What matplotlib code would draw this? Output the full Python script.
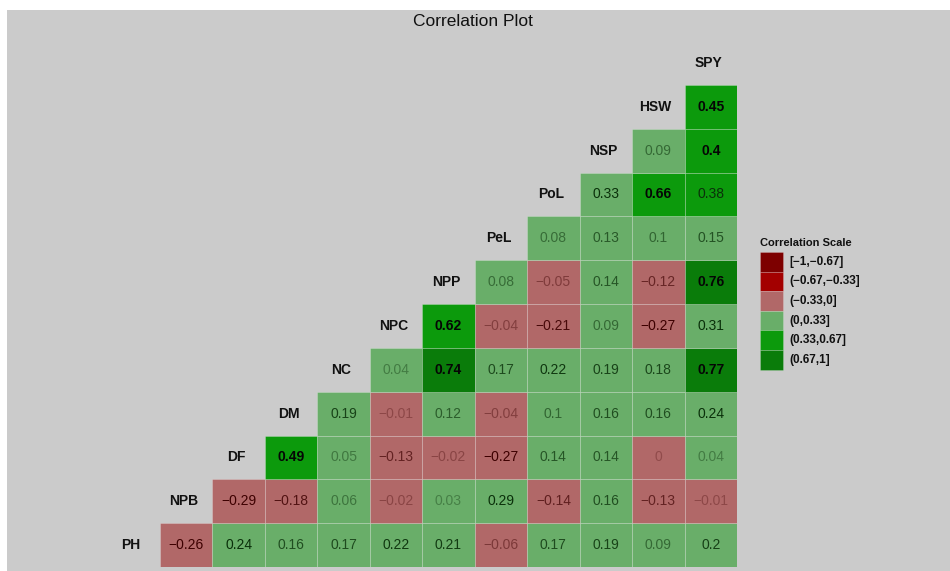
import numpy as np
import matplotlib
matplotlib.use("Agg")
import matplotlib.pyplot as plt
from matplotlib.patches import Rectangle

plt.rcParams['font.family'] = ['Liberation Sans', 'DejaVu Sans']

# variables, bottom (PH) to top (SPY)
variables = ["PH", "NPB", "DF", "DM", "NC", "NPC", "NPP", "PeL", "PoL", "NSP", "HSW", "SPY"]

# each row: correlations of that variable with the variables after it
row_PH = [-0.26, 0.24, 0.16, 0.17, 0.22, 0.21, -0.06, 0.17, 0.19, 0.09, 0.2]
row_NPB = [-0.29, -0.18, 0.06, -0.02, 0.03, 0.29, -0.14, 0.16, -0.13, -0.01]
row_DF = [0.49, 0.05, -0.13, -0.02, -0.27, 0.14, 0.14, 0, 0.04]
row_DM = [0.19, -0.01, 0.12, -0.04, 0.1, 0.16, 0.16, 0.24]
row_NC = [0.04, 0.74, 0.17, 0.22, 0.19, 0.18, 0.77]
row_NPC = [0.62, -0.04, -0.21, 0.09, -0.27, 0.31]
row_NPP = [0.08, -0.05, 0.14, -0.12, 0.76]
row_PeL = [0.08, 0.13, 0.1, 0.15]
row_PoL = [0.33, 0.66, 0.38]
row_NSP = [0.09, 0.4]
row_HSW = [0.45]
rows = [row_PH, row_NPB, row_DF, row_DM, row_NC, row_NPC, row_NPP,
        row_PeL, row_PoL, row_NSP, row_HSW]

bin_edges = [-1, -0.67, -0.33, 0, 0.33, 0.67, 1]
bin_labels = ["[\u22121,\u22120.67]", "(\u22120.67,\u22120.33]", "(\u22120.33,0]",
              "(0,0.33]", "(0.33,0.67]", "(0.67,1]"]
bin_colors = ["#7d0000", "#a30000", "#b16868", "#69ae69", "#0c9a0c", "#0a7c0a"]


def bin_of(v):
    for k in range(len(bin_edges) - 1):
        if v <= bin_edges[k + 1]:
            return k
    return len(bin_edges) - 2


W, H = 950, 571
fig = plt.figure(figsize=(W / 100, H / 100), dpi=100)
fig.patch.set_facecolor("white")
fig.patches.append(Rectangle((7 / W, 0), 1 - 7 / W, 1 - 10 / H,
                             transform=fig.transFigure, facecolor="#cbcbcb",
                             edgecolor="none", zorder=-10))

ax = fig.add_axes([107.5 / W, 4 / H, 629.5 / W, 526 / H])
ax.set_xlim(-0.5, 11.5)
ax.set_ylim(-0.5, 11.5)
ax.axis("off")
ax.patch.set_alpha(0)

for i, name in enumerate(variables):
    ax.text(i - 0.05, i, name, ha="center", va="center", fontsize=10,
            fontweight="bold", color="#111111")

for i, vals in enumerate(rows):
    for k, v in enumerate(vals):
        j = i + 1 + k
        b = bin_of(v)
        ax.add_patch(Rectangle((j - 0.5, i - 0.5), 1, 1, facecolor=bin_colors[b],
                               edgecolor=(1, 1, 1, 0.25), linewidth=0.6))
        a = abs(v)
        alpha = float(np.clip(0.28 + 3.0 * a, 0.28, 1.0))
        if a >= 0.4:
            col, wt = "#050505", "bold"
        elif v > 0:
            col, wt = "#0a300a", "normal"
        else:
            col, wt = "#3d0000", "normal"
        txt = ("%g" % v).replace("-", "\u2212")
        ax.text(j, i, txt, ha="center", va="center", fontsize=10,
                color=col, alpha=alpha, fontweight=wt)

fig.text(473 / W, 1 - 21 / H, "Correlation Plot", ha="center", va="center",
         fontsize=12.5, color="#111111")

# legend
fig.text(760 / W, 1 - 243 / H, "Correlation Scale", ha="left", va="center",
         fontsize=8, fontweight="bold", color="#111111")
box_h = 19.6
y0 = 252
for k, (lab, c) in enumerate(zip(bin_labels, bin_colors)):
    top = y0 + k * box_h
    fig.patches.append(Rectangle((760 / W, 1 - (top + box_h) / H), 23 / W, box_h / H,
                                 transform=fig.transFigure, facecolor=c,
                                 edgecolor=(1, 1, 1, 0.25), linewidth=0.5))
    fig.text(789 / W, 1 - (top + box_h / 2) / H, lab, ha="left", va="center",
             fontsize=8.5, fontweight="bold", color="#111111")

fig.savefig("out.png", dpi=100)
